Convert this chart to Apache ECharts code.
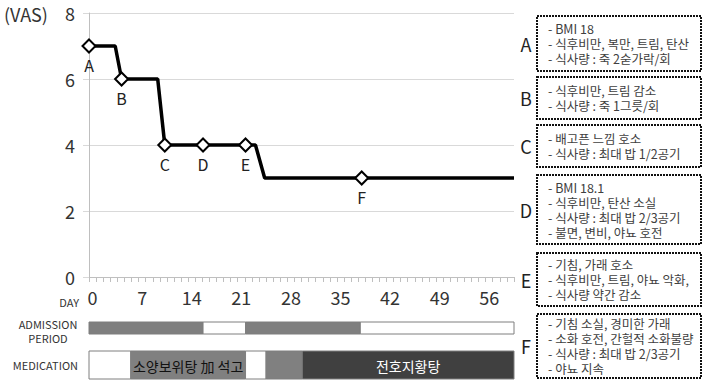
<!DOCTYPE html>
<html>
<head>
<meta charset="utf-8">
<script src="https://cdn.jsdelivr.net/npm/echarts@6/dist/echarts.min.js"></script>
<style>
  html, body { margin: 0; padding: 0; background: #fff; }
  #chart { width: 705px; height: 380px; }
</style>
</head>
<body>
<div id="chart"></div>
<script>
// VAS 점수 변화 (day, score)
const vasDays = [0, 3.7, 4.6, 9.7, 10.7, 16.1, 22.1, 23.5, 24.8, 38.5, 60];
const vasScores = [7, 7, 6, 6, 4, 4, 4, 4, 3, 3, 3];
const pointLabels = ['A', '', 'B', '', 'C', 'D', 'E', '', '', 'F', ''];

// x축 눈금 (DAY 0 ~ 59), 7일마다 라벨
const dayCategories = [];
for (let d = 0; d < 60; d++) dayCategories.push(String(d));
const vasTicks = [0, 2, 4, 6, 8];

// 입원기간: 구간 경계와 입원 여부
const admissionBreaks = [0, 16.1, 22.1, 38.3, 60];
const admitted = [1, 0, 1, 0];

// 복용 약물: 구간 경계, 종류(0 없음, 1 회색, 2 진한색), 이름
const medBreaks = [0, 5.9, 22.1, 25, 30.1, 60];
const medKinds = [0, 1, 0, 1, 2];
const medNames = ['', '소양보위탕 加 석고', '', '', '전호지황탕'];

// 오른쪽 메모 박스
const noteLetters = ['A', 'B', 'C', 'D', 'E', 'F'];
const noteTexts = [
    ['- BMI 18', '- 식후비만, 복만, 트림, 탄산', '- 식사량 : 죽 2숟가락/회'],
    ['- 식후비만, 트림 감소', '- 식사량 : 죽 1그릇/회'],
    ['- 배고픈 느낌 호소', '- 식사량 : 최대 밥 1/2공기'],
    ['- BMI 18.1', '- 식후비만, 탄산 소실', '- 식사량 : 최대 밥 2/3공기', '- 불면, 변비, 야뇨 호전'],
    ['- 기침, 가래 호소', '- 식후비만, 트림, 야뇨 악화,', '- 식사량 약간 감소'],
    ['- 기침 소실, 경미한 가래', '- 소화 호전, 간헐적 소화불량', '- 식사량 : 최대 밥 2/3공기', '- 야뇨 지속']
];
// 박스 위치 [top, height]
const noteBoxes = [[16, 55], [77, 42], [125, 42], [175, 69], [253, 53], [314, 64]];

const FONT = "'Noto Sans CJK KR', 'Noto Sans', sans-serif";
const medFill = ['#ffffff', '#808080', '#404040'];
const medText = ['#000', '#111', '#fff'];
const LINE_GAP = 15;

function segments(breaks) {
    const out = [];
    for (let i = 0; i < breaks.length - 1; i++) out.push([breaks[i], breaks[i + 1]]);
    return out;
}

function rectOf(api) {
    const p0 = api.coord([api.value(0), 1]);
    const p1 = api.coord([api.value(1), 0]);
    return { x: p0[0], y: p0[1], width: p1[0] - p0[0], height: p1[1] - p0[1] };
}

const myChart = echarts.init(document.getElementById('chart'), null, { renderer: 'svg' });

const graphics = [
    { type: 'text', x: 4, y: 14, style: { text: '(VAS)', font: '18px ' + FONT, fill: '#333', verticalAlign: 'middle' } },
    { type: 'text', x: 79, y: 302, style: { text: 'DAY', font: '11px ' + FONT, fill: '#333', align: 'right', verticalAlign: 'middle' } },
    { type: 'text', x: 48, y: 324, style: { text: 'ADMISSION', font: '11px ' + FONT, fill: '#333', align: 'center', verticalAlign: 'middle' } },
    { type: 'text', x: 48, y: 338, style: { text: 'PERIOD', font: '11px ' + FONT, fill: '#333', align: 'center', verticalAlign: 'middle' } },
    { type: 'text', x: 78, y: 365, style: { text: 'MEDICATION', font: '11px ' + FONT, fill: '#333', align: 'right', verticalAlign: 'middle' } }
];

noteLetters.forEach(function (letter, i) {
    const top = noteBoxes[i][0], h = noteBoxes[i][1];
    const lines = noteTexts[i];
    graphics.push({
        type: 'text', x: 526, y: top + h / 2,
        style: { text: letter, font: '18px ' + FONT, fill: '#222', align: 'center', verticalAlign: 'middle' }
    });
    graphics.push({
        type: 'rect', shape: { x: 537, y: top, width: 164, height: h },
        style: { fill: '#fff', stroke: '#111', lineWidth: 2, lineDash: [2, 1] }
    });
    // 한 줄씩 따로 그림
    const firstY = top + h / 2 - (lines.length - 1) * LINE_GAP / 2;
    lines.forEach(function (line, j) {
        graphics.push({
            type: 'text', x: 548, y: firstY + j * LINE_GAP,
            style: { text: line, font: '12.5px ' + FONT, fill: '#404040', verticalAlign: 'middle' }
        });
    });
});

myChart.setOption({
    animation: false,
    textStyle: { fontFamily: FONT },
    grid: [
        { left: 89, top: 13, width: 425, height: 264 },
        { left: 89, top: 322, width: 425, height: 12 },
        { left: 89, top: 351, width: 425, height: 28 }
    ],
    xAxis: [
        { type: 'value', gridIndex: 0, min: 0, max: 60, show: false },
        {
            type: 'category', gridIndex: 0, position: 'bottom', data: dayCategories, boundaryGap: true,
            axisLine: { lineStyle: { color: '#bfbfbf' } },
            axisTick: { show: true, interval: 0, length: 5, lineStyle: { color: '#bfbfbf' } },
            axisLabel: { interval: 6, fontSize: 18, color: '#333', margin: 11 }
        },
        { type: 'value', gridIndex: 1, min: 0, max: 60, show: false },
        { type: 'value', gridIndex: 2, min: 0, max: 60, show: false }
    ],
    yAxis: [
        {
            type: 'value', gridIndex: 0, min: vasTicks[0], max: vasTicks[vasTicks.length - 1], interval: 2,
            axisLine: { show: true, lineStyle: { color: '#bfbfbf' } },
            axisTick: { show: true, length: 6, lineStyle: { color: '#d9d9d9' } },
            axisLabel: { fontSize: 18, color: '#333', margin: 14 },
            splitLine: { lineStyle: { color: '#d9d9d9' } }
        },
        { type: 'value', gridIndex: 1, min: 0, max: 1, show: false },
        { type: 'value', gridIndex: 2, min: 0, max: 1, show: false }
    ],
    graphic: graphics,
    series: [
        {
            type: 'line', xAxisIndex: 0, yAxisIndex: 0,
            data: vasDays.map(function (d, i) {
                return { value: [d, vasScores[i]], symbol: pointLabels[i] ? 'diamond' : 'none' };
            }),
            symbolSize: 13,
            showAllSymbol: true,
            lineStyle: { color: '#000', width: 3.5 },
            itemStyle: { color: '#fff', borderColor: '#000', borderWidth: 2 },
            label: {
                show: true, position: 'bottom', distance: 3, fontSize: 16, color: '#222',
                formatter: function (p) { return pointLabels[p.dataIndex]; }
            },
            z: 5
        },
        {
            type: 'custom', xAxisIndex: 2, yAxisIndex: 1, clip: false,
            data: segments(admissionBreaks),
            renderItem: function (params, api) {
                return {
                    type: 'rect', shape: rectOf(api),
                    style: { fill: admitted[params.dataIndex] ? '#7f7f7f' : '#fff', stroke: '#7f7f7f', lineWidth: 1 }
                };
            }
        },
        {
            type: 'custom', xAxisIndex: 3, yAxisIndex: 2, clip: false,
            data: segments(medBreaks),
            renderItem: function (params, api) {
                const r = rectOf(api);
                const k = medKinds[params.dataIndex];
                return {
                    type: 'group',
                    children: [
                        { type: 'rect', shape: r, style: { fill: medFill[k], stroke: '#7f7f7f', lineWidth: 1 } },
                        {
                            type: 'text', x: r.x + r.width / 2, y: r.y + r.height / 2 + 1,
                            style: {
                                text: medNames[params.dataIndex], font: '14px ' + FONT,
                                fill: medText[k], align: 'center', verticalAlign: 'middle'
                            }
                        }
                    ]
                };
            }
        }
    ]
});
window.onresize = myChart.resize;
</script>
</body>
</html>
